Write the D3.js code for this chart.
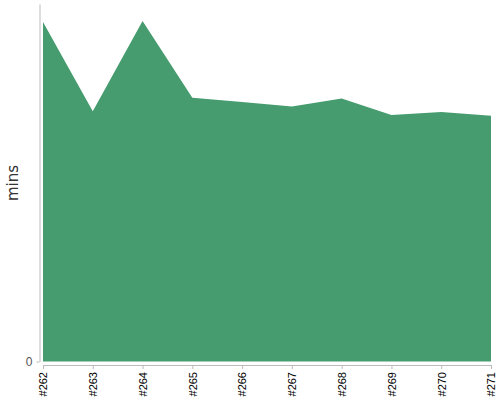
<!DOCTYPE html>
<html>
<head>
<meta charset="utf-8">
<script src="https://cdn.jsdelivr.net/npm/d3@7"></script>
<style>
  body { margin: 0; background: #fff; }
  svg { display: block; font-family: "Liberation Sans", Arial, sans-serif; }
</style>
</head>
<body>
<svg id="chart" width="500" height="400"></svg>
<script>
const builds = ["#262", "#263", "#264", "#265", "#266", "#267", "#268", "#269", "#270", "#271"];
const minutes = [19.95, 14.7, 20.0, 15.5, 15.25, 14.98, 15.45, 14.48, 14.65, 14.43];
const yTicks = [0];

function drawAreaChart() {
  const svg = d3.select("#chart");
  svg.selectAll("*").remove();

  const data = builds.map((b, i) => ({ build: b, value: minutes[i] }));

  const x = d3.scalePoint().domain(builds).range([43, 491]);
  const y = d3.scaleLinear().domain([0, 21]).range([361.5, 4]);

  svg.append("path")
    .datum(data)
    .attr("fill", "#469c6e")
    .attr("d", d3.area()
      .x(d => x(d.build))
      .y0(y(0))
      .y1(d => y(d.value)));

  const yAxis = svg.append("g")
    .attr("transform", "translate(39.5,0)")
    .call(d3.axisLeft(y).tickValues(yTicks).tickSize(3).tickSizeOuter(0));
  yAxis.select(".domain").attr("stroke", "#bbb");
  yAxis.selectAll(".tick line").attr("stroke", "#bbb");
  yAxis.selectAll(".tick text").attr("fill", "#555").attr("font-size", 12).attr("x", -7);

  const xAxis = svg.append("g")
    .attr("transform", "translate(0,365)")
    .call(d3.axisBottom(x).tickSize(4).tickSizeOuter(0));
  xAxis.select(".domain").attr("stroke", "#bbb");
  xAxis.selectAll(".tick line").attr("stroke", "#bbb");
  xAxis.selectAll(".tick text")
    .attr("fill", "#000")
    .attr("font-size", 11)
    .attr("transform", "rotate(-90)")
    .attr("x", -7)
    .attr("y", 0)
    .attr("dy", "0.35em")
    .style("text-anchor", "end");

  svg.append("text")
    .attr("transform", "translate(17.5,183) rotate(-90)")
    .attr("text-anchor", "middle")
    .attr("font-family", "DejaVu Sans, sans-serif")
    .attr("font-size", 15)
    .attr("fill", "#333")
    .text("mins");
}

drawAreaChart();
</script>
</body>
</html>
